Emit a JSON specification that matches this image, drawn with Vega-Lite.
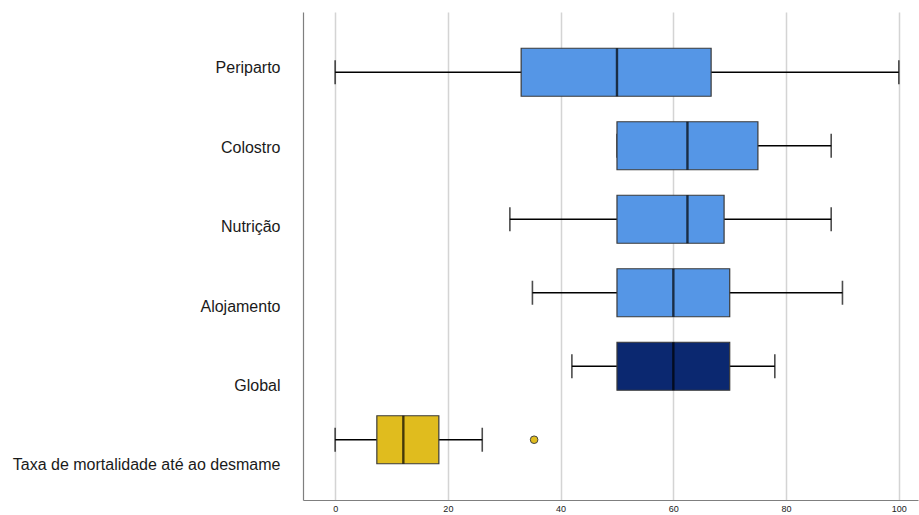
{
  "$schema": "https://vega.github.io/schema/vega-lite/v6.json",
  "autosize": "none",
  "width": 615,
  "height": 488,
  "padding": {"left": 303, "top": 12, "right": 1, "bottom": 15},
  "background": "white",
  "config": {
    "view": {"stroke": null},
    "font": "Liberation Sans"
  },
  "datasets": {
    "stats": [
      {"cat": "Periparto", "lower": 0, "q1": 33, "median": 50, "q3": 66.7, "upper": 100, "grp": "dim"},
      {"cat": "Colostro", "lower": 50, "q1": 50, "median": 62.5, "q3": 75, "upper": 88, "grp": "dim"},
      {"cat": "Nutrição", "lower": 31, "q1": 50, "median": 62.5, "q3": 69, "upper": 88, "grp": "dim"},
      {"cat": "Alojamento", "lower": 35, "q1": 50, "median": 60, "q3": 70, "upper": 90, "grp": "dim"},
      {"cat": "Global", "lower": 42, "q1": 50, "median": 60, "q3": 70, "upper": 78, "grp": "global"},
      {"cat": "Taxa de mortalidade até ao desmame", "lower": 0, "q1": 7.4, "median": 12.1, "q3": 18.4, "upper": 26.1, "grp": "taxa"}
    ],
    "outliers": [
      {"cat": "Taxa de mortalidade até ao desmame", "value": 35.3, "grp": "taxa"}
    ]
  },
  "resolve": {"scale": {"y": "independent"}},
  "layer": [
    {
      "layer": [
        {
          "data": {"name": "stats"},
          "mark": {"type": "rule", "color": "#000000", "strokeWidth": 1.4},
          "encoding": {
            "y": {"field": "cat", "type": "nominal", "sort": null, "axis": null,
                  "scale": {"type": "band", "paddingInner": 0, "paddingOuter": 0.32}},
            "x": {"field": "lower", "type": "quantitative",
                  "scale": {"domain": [-5.7, 103.4], "nice": false, "zero": false},
                  "axis": {"values": [0, 20, 40, 60, 80, 100], "title": null, "grid": true,
                           "gridColor": "#d4d4d4", "gridWidth": 1.5, "ticks": false,
                           "domainColor": "#7f7f7f", "domainWidth": 1.2,
                           "labelFontSize": 9, "labelColor": "#222222", "labelPadding": 4,
                           "labelFont": "Liberation Sans"}},
            "x2": {"field": "upper"}
          }
        },
        {
          "data": {"name": "stats"},
          "mark": {"type": "tick", "color": "#000000", "size": 24, "thickness": 1.6},
          "encoding": {
            "y": {"field": "cat", "type": "nominal", "sort": null},
            "x": {"field": "lower", "type": "quantitative"}
          }
        },
        {
          "data": {"name": "stats"},
          "mark": {"type": "tick", "color": "#000000", "size": 24, "thickness": 1.6},
          "encoding": {
            "y": {"field": "cat", "type": "nominal", "sort": null},
            "x": {"field": "upper", "type": "quantitative"}
          }
        },
        {
          "data": {"name": "stats"},
          "mark": {"type": "bar", "size": 48, "stroke": "#3a3a3a", "strokeWidth": 1.2},
          "encoding": {
            "y": {"field": "cat", "type": "nominal", "sort": null},
            "x": {"field": "q1", "type": "quantitative"},
            "x2": {"field": "q3"},
            "color": {"field": "grp", "type": "nominal", "legend": null,
                      "scale": {"domain": ["dim", "global", "taxa"], "range": ["#5596E6", "#0B2870", "#E0BC1E"]}}
          }
        },
        {
          "data": {"name": "stats"},
          "mark": {"type": "tick", "color": "#000000", "size": 48, "thickness": 2.4},
          "encoding": {
            "y": {"field": "cat", "type": "nominal", "sort": null},
            "x": {"field": "median", "type": "quantitative"}
          }
        },
        {
          "data": {"name": "outliers"},
          "mark": {"type": "point", "filled": true, "size": 58, "stroke": "#444444", "strokeWidth": 1, "opacity": 1},
          "encoding": {
            "y": {"field": "cat", "type": "nominal", "sort": null},
            "x": {"field": "value", "type": "quantitative"},
            "color": {"value": "#E0BC1E"}
          }
        }
      ]
    },
    {
      "data": {"name": "stats"},
      "mark": {"type": "point", "opacity": 0},
      "encoding": {
        "y": {"field": "cat", "type": "nominal", "sort": null,
              "scale": {"type": "point", "padding": 0.573, "align": 0.615},
              "axis": {"orient": "left", "title": null, "ticks": false, "domain": true,
                       "domainColor": "#7f7f7f", "domainWidth": 1.2,
                       "labelFontSize": 16, "labelColor": "#1a1a1a", "labelPadding": 23,
                       "labelFont": "Liberation Sans", "labelLimit": 400}}
      }
    }
  ]
}
